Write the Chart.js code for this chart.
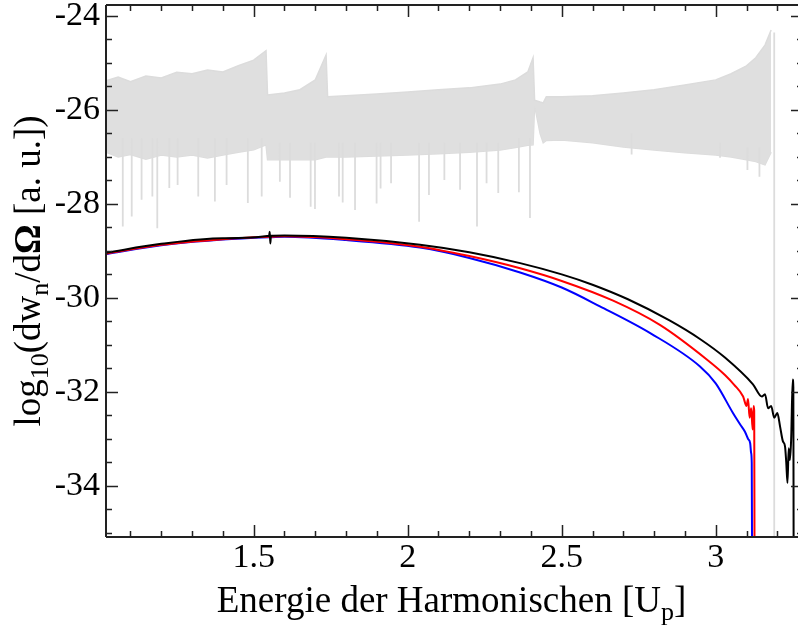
<!DOCTYPE html>
<html>
<head>
<meta charset="utf-8">
<script src="https://cdn.jsdelivr.net/npm/chart.js@4/dist/chart.umd.min.js"></script>
<style>
html,body{margin:0;padding:0;overflow:hidden;background:#fff;width:798px;height:630px;}
canvas{display:block;}
</style>
</head>
<body>
<canvas id="c" width="805" height="630"></canvas>
<script>
// ---- axis ticks ----
const xTickValues = [1.5, 2, 2.5, 3];
const xTickLabels = ['1.5', '2', '2.5', '3'];
const yTickValues = [-34, -32, -30, -28, -26, -24];
const yTickLabels = ['-34', '-32', '-30', '-28', '-26', '-24'];

// ---- grey spectrum: envelope of the dense oscillation ----
const grayX     = [1.02,1.06,1.1,1.15,1.2,1.25,1.3,1.35,1.4,1.45,1.5,1.54,1.545,1.6,1.65,1.7,1.735,1.74,1.8,1.9,2.0,2.1,2.2,2.3,2.35,2.39,2.407,2.412,2.43,2.44,2.45,2.5,2.6,2.7,2.8,2.9,3.0,3.05,3.1,3.13,3.16,3.18];
const grayUpper = [-25.38,-25.30,-25.40,-25.28,-25.32,-25.20,-25.23,-25.15,-25.19,-25.06,-24.94,-24.74,-25.68,-25.64,-25.57,-25.36,-24.83,-25.72,-25.70,-25.66,-25.62,-25.57,-25.53,-25.45,-25.36,-25.19,-24.89,-25.79,-25.83,-25.85,-25.72,-25.72,-25.70,-25.64,-25.57,-25.47,-25.36,-25.23,-25.06,-24.89,-24.62,-24.30];
const grayLower = [-26.9,-27.0,-26.95,-27.05,-26.96,-27.0,-26.96,-27.02,-26.96,-26.9,-26.85,-26.74,-27.06,-27.06,-27.06,-27.06,-27.0,-27.0,-27.0,-26.98,-26.96,-26.93,-26.9,-26.85,-26.8,-26.75,-26.74,-25.9,-26.5,-26.7,-26.65,-26.64,-26.70,-26.79,-26.85,-26.91,-26.96,-27.0,-27.06,-27.1,-27.17,-26.9];
// downward spikes of the grey spectrum (and its final drop)
const spikeX      = [1.075,1.104,1.136,1.171,1.187,1.226,1.253,1.320,1.374,1.412,1.481,1.526,1.585,1.618,1.685,1.699,1.777,1.789,1.829,1.899,1.912,1.946,2.037,2.069,2.119,2.170,2.225,2.256,2.294,2.361,2.397,2.727,3.014,3.103,3.142,3.19];
const spikeTop    = [-26.6,-26.6,-26.6,-26.6,-26.6,-26.6,-26.6,-26.6,-26.6,-26.6,-26.6,-26.6,-26.7,-26.7,-26.7,-26.7,-26.7,-26.7,-26.7,-26.7,-26.7,-26.7,-26.7,-26.7,-26.7,-26.7,-26.7,-26.7,-26.7,-26.6,-26.6,-26.5,-26.7,-26.8,-26.8,-24.35];
const spikeBottom = [-28.48,-28.27,-27.91,-27.84,-28.52,-27.66,-27.60,-27.84,-27.95,-27.60,-27.98,-27.84,-27.53,-27.87,-28.06,-28.11,-27.84,-27.97,-28.13,-27.99,-27.67,-27.56,-28.38,-27.81,-27.49,-27.70,-28.48,-27.56,-27.77,-27.75,-28.30,-26.95,-27.02,-27.28,-27.42,-35.4];

// ---- black curve ----
const blackX = [1.02,1.2,1.4,1.55,1.552,1.554,1.556,1.6,1.8,2.04,2.2,2.365,2.5,2.6,2.715,2.85,2.95,3.03,3.121,3.15,3.16,3.17,3.18,3.19,3.2,3.209,3.218,3.225,3.229,3.233,3.237,3.241,3.245,3.250,3.252,3.253];
const blackY = [-29.04,-28.85,-28.73,-28.68,-28.59,-28.84,-28.68,-28.67,-28.72,-28.87,-29.03,-29.26,-29.50,-29.72,-30.03,-30.48,-30.88,-31.27,-31.84,-32.10,-32.05,-32.35,-32.30,-32.55,-32.45,-32.74,-33.05,-33.16,-33.50,-33.94,-33.20,-33.45,-33.00,-31.74,-31.90,-35.5];
// ---- red curve ----
const redX = [1.02,1.2,1.4,1.55,1.6,1.8,2.04,2.2,2.365,2.5,2.667,2.82,2.971,3.03,3.06,3.089,3.1,3.105,3.11,3.115,3.12,3.123,3.125,3.126];
const redY = [-29.06,-28.87,-28.75,-28.70,-28.69,-28.75,-28.91,-29.11,-29.37,-29.64,-30.06,-30.58,-31.31,-31.64,-31.85,-32.10,-32.30,-32.15,-32.55,-32.35,-32.80,-32.30,-32.40,-35.5];
// ---- blue curve ----
const blueX = [1.02,1.2,1.4,1.55,1.6,1.8,2.04,2.2,2.365,2.5,2.624,2.79,2.949,3.0,3.056,3.08,3.095,3.105,3.112,3.115,3.117,3.118];
const blueY = [-29.07,-28.88,-28.76,-28.71,-28.70,-28.77,-28.93,-29.15,-29.46,-29.78,-30.18,-30.76,-31.46,-31.82,-32.45,-32.70,-32.85,-33.00,-33.10,-33.30,-33.52,-35.5];

const X_MIN = 1.0205, X_MAX = 3.2834, Y_MIN = -35.09, Y_MAX = -23.766;
const GRAY = 'rgb(220,220,220)';
const SERIF = '"Liberation Serif", "Times New Roman", serif';

const pts = (xs, ys) => xs.map((x, i) => ({x: x, y: ys[i]}));
const spikePts = [];
spikeX.forEach((x, i) => {
  spikePts.push({x: x, y: spikeTop[i]});
  spikePts.push({x: x, y: spikeBottom[i]});
  spikePts.push({x: x, y: null});
});

const framePlugin = {
  id: 'frame',
  afterDraw(chart) {
    const ctx = chart.ctx, a = chart.chartArea;
    const xs = chart.scales.x, ys = chart.scales.y;
    ctx.save();
    ctx.strokeStyle = '#222';
    ctx.lineWidth = 2;
    ctx.beginPath();
    ctx.moveTo(a.left, a.top); ctx.lineTo(a.right, a.top);
    ctx.moveTo(a.left, a.bottom); ctx.lineTo(a.right, a.bottom);
    ctx.moveTo(a.left, a.top); ctx.lineTo(a.left, a.bottom);
    ctx.moveTo(a.right, a.top); ctx.lineTo(a.right, a.bottom);
    ctx.stroke();
    ctx.lineWidth = 1.5;
    ctx.beginPath();
    for (let k = 11; k <= 32; k++) {
      const v = k / 10;
      const px = Math.round(xs.getPixelForValue(v)) + 0.5;
      const len = (k % 5 === 0) ? 12 : 6;
      ctx.moveTo(px, a.bottom); ctx.lineTo(px, a.bottom - len);
      ctx.moveTo(px, a.top); ctx.lineTo(px, a.top + len);
    }
    for (let k = -70; k <= -48; k++) {
      const v = k / 2;
      if (v < Y_MIN || v > Y_MAX) continue;
      const py = Math.round(ys.getPixelForValue(v)) + 0.5;
      const len = (k % 4 === 0) ? 12 : 6;
      ctx.moveTo(a.left, py); ctx.lineTo(a.left + len, py);
      ctx.moveTo(a.right, py); ctx.lineTo(a.right - len, py);
    }
    ctx.stroke();

    const main = '37px ' + SERIF, sub = '26px ' + SERIF, bold = 'bold 37px ' + SERIF;
    function drawParts(parts, cx, cy) {
      let w = 0;
      parts.forEach(p => { ctx.font = p.f; w += ctx.measureText(p.t).width; });
      let x = cx - w / 2;
      ctx.fillStyle = '#000';
      ctx.textBaseline = 'alphabetic';
      ctx.textAlign = 'left';
      parts.forEach(p => { ctx.font = p.f; ctx.fillText(p.t, x, cy + (p.dy || 0)); x += ctx.measureText(p.t).width; });
    }
    drawParts([
      {t: 'Energie der Harmonischen [U', f: main},
      {t: 'p', f: sub, dy: 8},
      {t: ']', f: main}
    ], (a.left + 797) / 2, 612);

    ctx.save();
    ctx.translate(40, (a.top + a.bottom) / 2);
    ctx.rotate(-Math.PI / 2);
    drawParts([
      {t: 'log', f: main},
      {t: '10', f: sub, dy: 8},
      {t: '(dw', f: main},
      {t: 'n', f: sub, dy: 8},
      {t: '/d', f: main},
      {t: 'Ω', f: bold},
      {t: ' [a. u.])', f: main}
    ], 0, 0);
    ctx.restore();
    ctx.restore();
  }
};

function zeroPad(s) { s.paddingTop = 0; s.paddingBottom = 0; s.paddingLeft = 0; s.paddingRight = 0; }

new Chart(document.getElementById('c'), {
  type: 'line',
  data: {
    datasets: [
      {label: 'black', data: pts(blackX, blackY), borderColor: '#000', borderWidth: 2, order: 1, cubicInterpolationMode: 'monotone'},
      {label: 'red', data: pts(redX, redY), borderColor: '#ff0000', borderWidth: 2, order: 2, cubicInterpolationMode: 'monotone'},
      {label: 'blue', data: pts(blueX, blueY), borderColor: '#0000ff', borderWidth: 2, order: 3, cubicInterpolationMode: 'monotone'},
      {label: 'grey upper', data: pts(grayX, grayUpper), borderColor: GRAY, backgroundColor: 'rgb(223,223,223)', borderWidth: 1.5, fill: '+1', order: 10, tension: 0},
      {label: 'grey lower', data: pts(grayX, grayLower), borderColor: GRAY, borderWidth: 1.5, fill: false, order: 11, tension: 0},
      {label: 'grey spikes', data: spikePts, borderColor: GRAY, borderWidth: 1.8, fill: false, order: 9, spanGaps: false, tension: 0}
    ]
  },
  options: {
    responsive: false,
    animation: false,
    devicePixelRatio: 1,
    layout: {padding: {top: 5, right: 2, left: 0, bottom: 0}},
    elements: {point: {radius: 0, hoverRadius: 0}},
    datasets: {line: {clip: 0}},
    plugins: {legend: {display: false}, tooltip: {enabled: false}},
    events: [],
    scales: {
      x: {
        type: 'linear', min: X_MIN, max: X_MAX,
        grid: {display: false, drawTicks: false},
        border: {display: false},
        afterBuildTicks(s) { s.ticks = xTickValues.map(v => ({value: v})); },
        afterFit(s) { s.height = 93; zeroPad(s); },
        ticks: {
          padding: 1, color: '#000', maxRotation: 0, autoSkip: false,
          font: {family: SERIF, size: 34},
          callback(v) { const i = xTickValues.indexOf(v); return i >= 0 ? xTickLabels[i] : ''; }
        }
      },
      y: {
        type: 'linear', min: Y_MIN, max: Y_MAX,
        grid: {display: false, drawTicks: false},
        border: {display: false},
        afterBuildTicks(s) { s.ticks = yTickValues.map(v => ({value: v})); },
        afterFit(s) { s.width = 106; zeroPad(s); },
        ticks: {
          padding: 6, color: '#000', autoSkip: false,
          font: {family: SERIF, size: 34},
          callback(v) { const i = yTickValues.indexOf(v); return i >= 0 ? yTickLabels[i] : ''; }
        }
      }
    }
  },
  plugins: [framePlugin]
});
</script>
</body>
</html>
